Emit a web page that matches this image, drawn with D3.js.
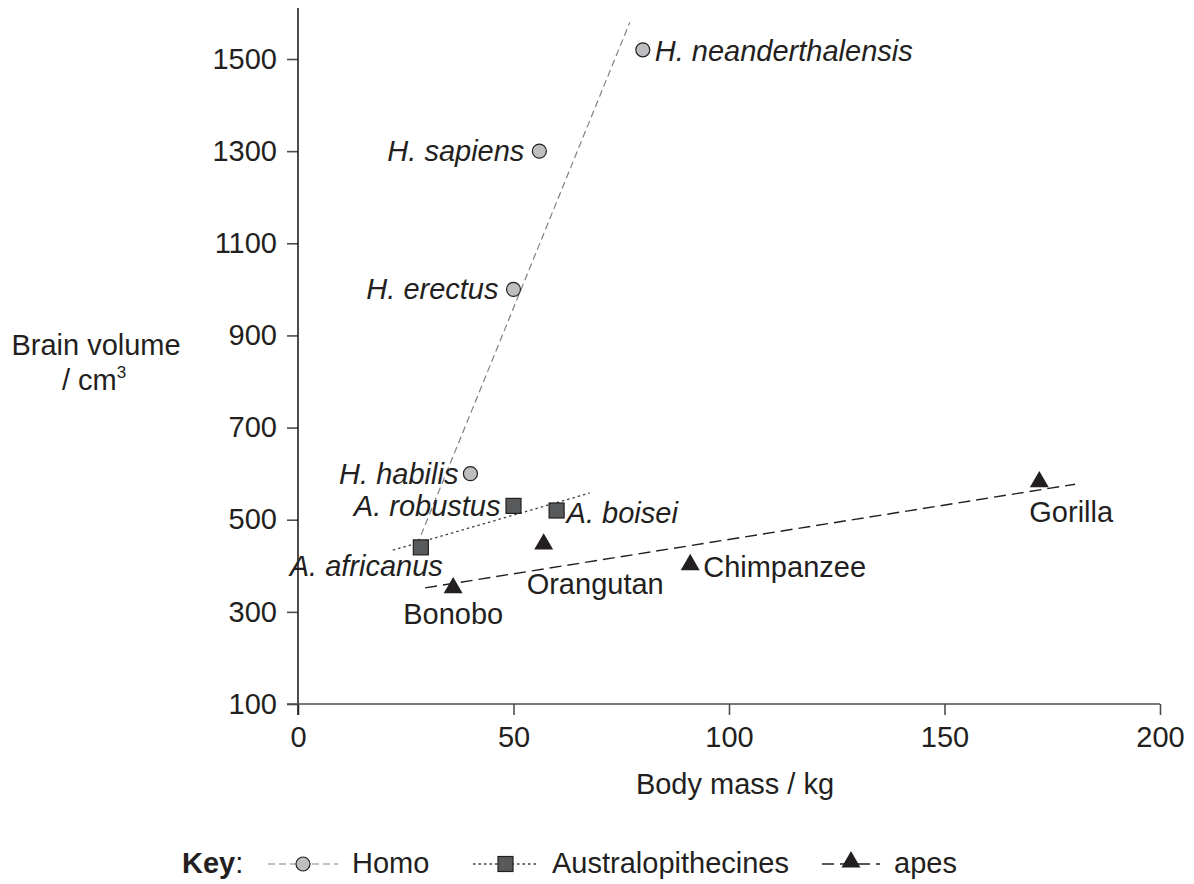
<!DOCTYPE html>
<html lang="en">
<head>
<meta charset="utf-8">
<title>Brain volume vs body mass</title>
<script src="https://cdn.jsdelivr.net/npm/d3@7"></script>
<style>
  body { margin: 0; background: #fff; }
  text { font-family: "Liberation Sans", Arial, sans-serif; fill: #231f20; }
</style>
</head>
<body>
<script>
// data
var species = ["H. neanderthalensis", "H. sapiens", "H. erectus", "H. habilis",
               "A. robustus", "A. boisei", "A. africanus",
               "Gorilla", "Chimpanzee", "Orangutan", "Bonobo"];
var groups = ["homo", "homo", "homo", "homo",
              "aus", "aus", "aus",
              "apes", "apes", "apes", "apes"];
var bodyMass = [80, 56, 50, 40, 50, 60, 28.5, 172, 91, 57, 36];
var brainVolume = [1520, 1300, 1000, 600, 530, 520, 440, 580, 400, 445, 350];

// trend lines (end points)
var homoLine = [[27.6, 445], [77, 1580]];
var ausLine = [[22, 434], [67.7, 558]];
var apesLine = [[29.5, 352], [180.3, 577]];

var xTicks = [0, 50, 100, 150, 200];
var yTicks = [100, 300, 500, 700, 900, 1100, 1300, 1500];
var legendNames = ["Homo", "Australopithecines", "apes"];

// label placement per species: [dx, dy, anchor]
var labelPos = {
  "H. neanderthalensis": [12, 11, "start"],
  "H. sapiens": [-15, 10, "end"],
  "H. erectus": [-15, 10, "end"],
  "H. habilis": [-12, 10, "end"],
  "A. robustus": [-13, 10, "end"],
  "A. boisei": [10, 12, "start"],
  "A. africanus": [22, 29, "end"],
  "Gorilla": [-10, 39, "start"],
  "Chimpanzee": [13, 11, "start"],
  "Orangutan": [-17, 49, "start"],
  "Bonobo": [0, 35, "middle"]
};

var w = 1194, h = 884;
var svg = d3.select("body").append("svg")
  .attr("width", w).attr("height", h);

var x = d3.scaleLinear().domain([0, 200]).range([298, 1160]);
var y = d3.scaleLinear().domain([100, 1500]).range([704, 59]);

var fs = 29;

// axes
var yAxis = svg.append("g")
  .attr("transform", "translate(298,0)")
  .call(d3.axisLeft(y).tickValues(yTicks).tickSize(11).tickPadding(10).tickFormat(d3.format("d")));
var xAxis = svg.append("g")
  .attr("transform", "translate(0,704)")
  .call(d3.axisBottom(x).tickValues(xTicks).tickSize(11).tickPadding(11).tickFormat(d3.format("d")));
[yAxis, xAxis].forEach(function(a) {
  a.select(".domain").remove();
  a.selectAll("line").attr("stroke", "#4d4d4f").attr("stroke-width", 1.6);
  a.selectAll("text").style("font-size", fs + "px").attr("fill", "#231f20");
});
svg.append("line").attr("x1", 298).attr("x2", 298).attr("y1", 8).attr("y2", 715)
  .attr("stroke", "#231f20").attr("stroke-width", 1.6);
svg.append("line").attr("x1", 287).attr("x2", 1160).attr("y1", 704).attr("y2", 704)
  .attr("stroke", "#4d4d4f").attr("stroke-width", 1.6);

// axis titles
svg.append("text").attr("x", 735).attr("y", 794).attr("text-anchor", "middle")
  .style("font-size", fs + "px").text("Body mass / kg");
svg.append("text").attr("x", 96).attr("y", 355).attr("text-anchor", "middle")
  .style("font-size", fs + "px").text("Brain volume");
var cm = svg.append("text").attr("x", 62).attr("y", 390).style("font-size", fs + "px");
cm.append("tspan").text("/ cm");
cm.append("tspan").attr("dy", -12).style("font-size", "17px").text("3");

// styles per group
var lineStyle = {
  homo: { stroke: "#808285", dash: "7,4", width: 1.2 },
  aus: { stroke: "#414042", dash: "2.5,3", width: 1.3 },
  apes: { stroke: "#231f20", dash: "12,6", width: 1.4 }
};

var line = d3.line().x(function(d) { return x(d[0]); }).y(function(d) { return y(d[1]); });
[["homo", homoLine], ["aus", ausLine], ["apes", apesLine]].forEach(function(p) {
  var s = lineStyle[p[0]];
  svg.append("path").attr("d", line(p[1])).attr("fill", "none")
    .attr("stroke", s.stroke).attr("stroke-width", s.width).attr("stroke-dasharray", s.dash);
});

function drawMarker(g, group, cx, cy) {
  if (group === "homo") {
    g.append("circle").attr("cx", cx).attr("cy", cy).attr("r", 7)
      .attr("fill", "#bcbec0").attr("stroke", "#231f20").attr("stroke-width", 1.2);
  } else if (group === "aus") {
    g.append("rect").attr("x", cx - 7.5).attr("y", cy - 7.5).attr("width", 15).attr("height", 15)
      .attr("fill", "#58595b").attr("stroke", "#231f20").attr("stroke-width", 1.2);
  } else {
    g.append("path").attr("d", d3.symbol().type(d3.symbolTriangle).size(155)())
      .attr("transform", "translate(" + cx + "," + (cy - 1) + ")")
      .attr("fill", "#231f20");
  }
}

var pts = svg.append("g");
species.forEach(function(name, i) {
  var cx = x(bodyMass[i]), cy = y(brainVolume[i]);
  drawMarker(pts, groups[i], cx, cy);
  var lp = labelPos[name];
  pts.append("text").attr("x", cx + lp[0]).attr("y", cy + lp[1])
    .attr("text-anchor", lp[2])
    .style("font-size", fs + "px")
    .style("font-style", groups[i] === "apes" ? "normal" : "italic")
    .text(name);
});

// legend
var key = svg.append("text").attr("x", 182).attr("y", 873).style("font-size", fs + "px");
key.append("tspan").style("font-weight", "bold").text("Key");
key.append("tspan").text(":");

var legendGroups = ["homo", "aus", "apes"];
var legX = [268, 473, 822];
var legW = [70, 65, 58];
legendGroups.forEach(function(g, i) {
  var s = lineStyle[g];
  var x0 = legX[i], x1 = legX[i] + legW[i], ym = 864;
  svg.append("line").attr("x1", x0).attr("x2", x1).attr("y1", ym).attr("y2", ym)
    .attr("stroke", s.stroke).attr("stroke-width", s.width).attr("stroke-dasharray", s.dash);
  drawMarker(svg, g, (x0 + x1) / 2, g === "apes" ? ym - 1 : ym);
  svg.append("text").attr("x", x1 + 14).attr("y", 873).style("font-size", fs + "px")
    .text(legendNames[i]);
});
</script>
</body>
</html>
